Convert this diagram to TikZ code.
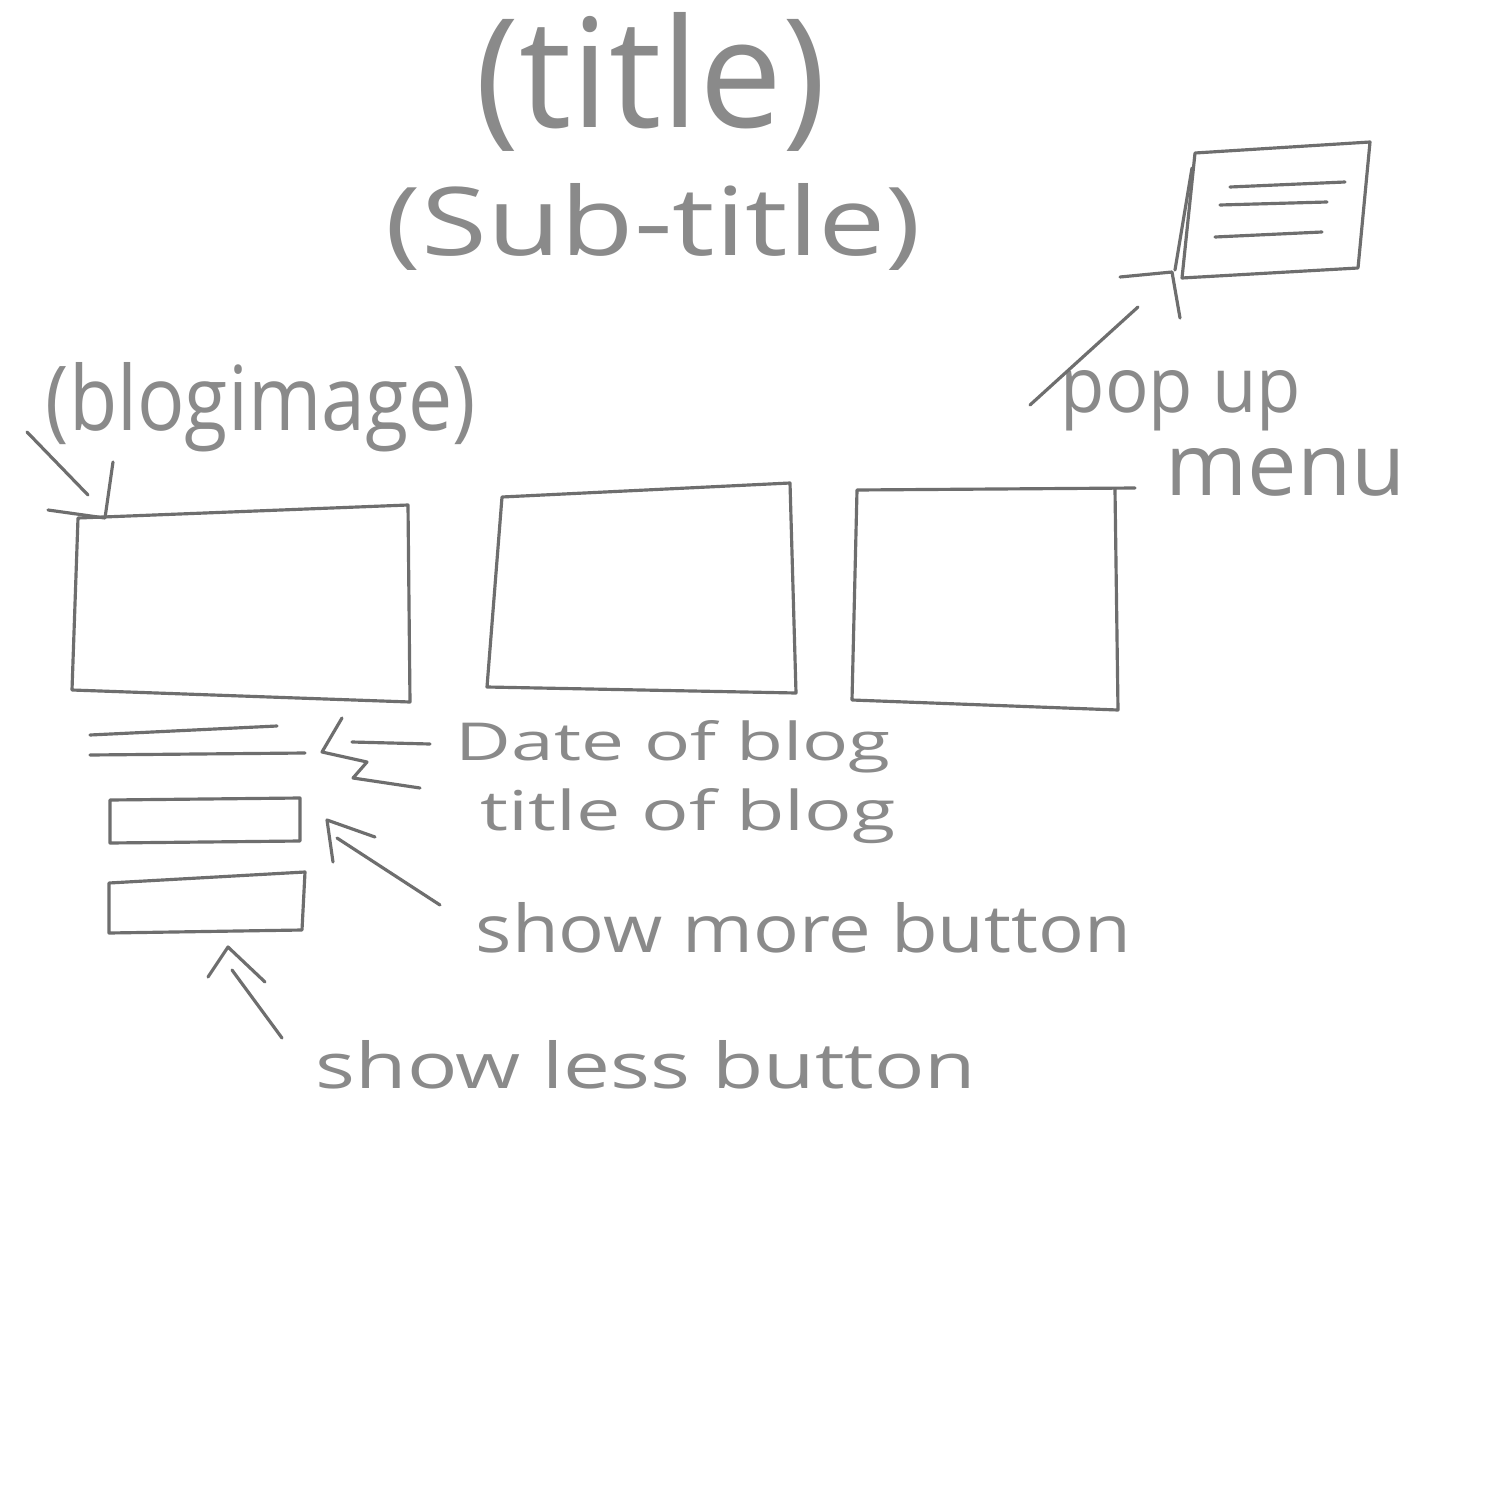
\documentclass[tikz,border=0pt]{standalone}
\usepackage{fontspec}
\setmainfont{Open Sans}
\usepackage{graphicx}
\definecolor{pencil}{HTML}{6E6E6E}
\definecolor{pentext}{HTML}{8A8A8A}
\newcommand\fitwh[3]{\resizebox{#1}{#2}{#3}}
\begin{document}
\begin{tikzpicture}[x=0.01cm,y=-0.01cm,
  sk/.style={draw=pencil,line width=0.9pt,line cap=round,line join=round},
  lbl/.style={inner sep=0pt,anchor=base west,text=pentext}]
\useasboundingbox[fill=white] (0,0) rectangle (1500,1500);

% headings
\node[lbl] (title) at (475,128) {\fitwh{3.5cm}{1.15cm}{(title)}};
\node[lbl] (subtitle) at (385,255) {\fitwh{5.35cm}{0.72cm}{(Sub-title)}};
\node[lbl] (blogimg) at (45,430) {\fitwh{4.3cm}{0.68cm}{(blogimage)}};
\node[lbl] (popup) at (1060,412) {\fitwh{2.4cm}{0.42cm}{pop up}};
\node[lbl] (menu) at (1165,495) {\fitwh{2.4cm}{0.47cm}{menu}};
\node[lbl] (date) at (455,760) {\fitwh{4.35cm}{0.4cm}{Date of blog}};
\node[lbl] (btitle) at (480,830) {\fitwh{4.15cm}{0.42cm}{title of blog}};
\node[lbl] (more) at (475,952) {\fitwh{6.55cm}{0.5cm}{show more button}};
\node[lbl] (less) at (315,1088) {\fitwh{6.6cm}{0.48cm}{show less button}};

% blog image boxes
\draw[sk] (78,518) -- (408,505) -- (410,702) -- (72,690) -- cycle;
\draw[sk] (502,497) -- (790,483) -- (796,693) -- (487,687) -- cycle;
\draw[sk] (857,490) -- (1135,488) (1115,490) -- (1118,710) -- (852,700) -- (857,490);

% date / title lines
\draw[sk] (90,735) -- (277,726);
\draw[sk] (90,755) -- (305,753);

% buttons
\draw[sk] (110,800) -- (300,798) -- (300,841) -- (110,843) -- cycle;
\draw[sk] (109,883) -- (305,872) -- (302,930) -- (109,933) -- cycle;

% pop up menu
\draw[sk] (1195,153) -- (1370,142) -- (1358,268) -- (1182,278) -- cycle;
\draw[sk] (1175,270) -- (1192,168);
\draw[sk] (1230,187) -- (1345,182);
\draw[sk] (1220,205) -- (1327,202);
\draw[sk] (1215,237) -- (1322,232);

% connectors
\coordinate (bi1) at (27,432); \coordinate (bi2) at (88,495);
\draw[sk] (bi1) -- (bi2);
\draw[sk] (48,510) -- (105,518) -- (113,462);

\coordinate (pm1) at (1030,405); \coordinate (pm2) at (1138,307);
\draw[sk] (pm1) -- (pm2);
\draw[sk] (1120,277) -- (1172,272) -- (1180,318);

\coordinate (d1) at (430,744); \coordinate (d2) at (352,742);
\draw[sk] (d1) -- (d2);
\draw[sk] (342,718) -- (322,752) -- (367,762) -- (353,778) -- (420,788);

\coordinate (m1) at (440,905); \coordinate (m2) at (337,838);
\draw[sk] (m1) -- (m2);
\draw[sk] (375,837) -- (327,820) -- (333,862);

\coordinate (l1) at (282,1038); \coordinate (l2) at (232,970);
\draw[sk] (l1) -- (l2);
\draw[sk] (208,977) -- (228,947) -- (265,982);
\end{tikzpicture}
\end{document}
